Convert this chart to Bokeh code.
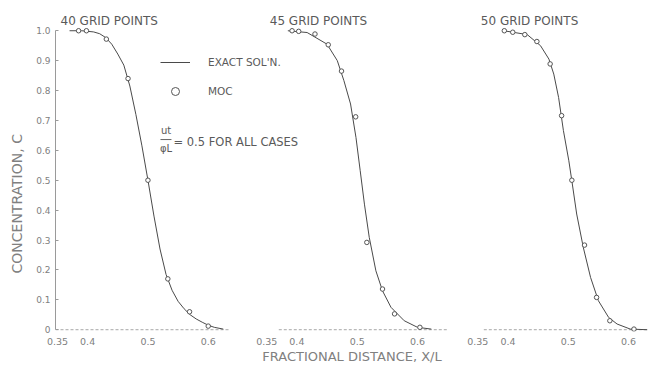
from bokeh.plotting import figure
from bokeh.models import Range1d, FixedTicker, Label, Legend, LegendItem, Arrow, Title
from bokeh.embed import file_html
from bokeh.resources import INLINE

# ---------------- data ----------------
panel_titles = ["40 GRID POINTS", "45 GRID POINTS", "50 GRID POINTS"]
x_tick_values = [0.35, 0.4, 0.5, 0.6]
x_tick_labels = ["0.35", "0.4", "0.5", "0.6"]
c_tick_values = [0, 0.1, 0.2, 0.3, 0.4, 0.5, 0.6, 0.7, 0.8, 0.9, 1.0]
c_tick_labels = ["0", "0.1", "0.2", "0.3", "0.4", "0.5", "0.6", "0.7", "0.8", "0.9", "1.0"]

# 40 grid points
exact_x_40 = [0.37, 0.39, 0.41, 0.42, 0.43, 0.44, 0.45, 0.46, 0.47, 0.48, 0.49, 0.50,
              0.51, 0.52, 0.53, 0.54, 0.55, 0.56, 0.57, 0.58, 0.59, 0.60, 0.61, 0.625]
exact_c_40 = [1.0, 1.0, 0.996, 0.99, 0.977, 0.955, 0.922, 0.885, 0.815, 0.72, 0.615, 0.50,
              0.38, 0.27, 0.185, 0.132, 0.095, 0.07, 0.05, 0.036, 0.025, 0.015, 0.008, 0.002]
moc_x_40 = [0.385, 0.398, 0.431, 0.467, 0.500, 0.533, 0.569, 0.600]
moc_c_40 = [1.0, 1.0, 0.972, 0.84, 0.50, 0.17, 0.06, 0.012]

# 45 grid points
exact_x_45 = [0.385, 0.417, 0.45, 0.467, 0.478, 0.489, 0.498, 0.505, 0.512, 0.52, 0.531,
              0.542, 0.556, 0.578, 0.60, 0.623]
exact_c_45 = [1.0, 0.994, 0.955, 0.90, 0.833, 0.755, 0.643, 0.532, 0.42, 0.309, 0.197,
              0.13, 0.075, 0.03, 0.008, 0.002]
moc_x_45 = [0.392, 0.403, 0.43, 0.452, 0.474, 0.4975, 0.516, 0.542, 0.562, 0.604]
moc_c_45 = [1.0, 0.998, 0.989, 0.953, 0.865, 0.712, 0.292, 0.136, 0.053, 0.008]

# 50 grid points
exact_x_50 = [0.393, 0.432, 0.454, 0.468, 0.476, 0.484, 0.492, 0.501, 0.506, 0.514, 0.525,
              0.537, 0.55, 0.567, 0.581, 0.603, 0.631]
exact_c_50 = [1.0, 0.987, 0.95, 0.905, 0.855, 0.777, 0.666, 0.565, 0.498, 0.387, 0.275,
              0.175, 0.097, 0.041, 0.019, 0.002, 0.0]
moc_x_50 = [0.394, 0.408, 0.428, 0.448, 0.470, 0.489, 0.506, 0.527, 0.547, 0.569, 0.609]
moc_c_50 = [1.0, 0.995, 0.987, 0.964, 0.889, 0.716, 0.50, 0.283, 0.108, 0.03, 0.002]

exact_x = [exact_x_40, exact_x_45, exact_x_50]
exact_c = [exact_c_40, exact_c_45, exact_c_50]
moc_x = [moc_x_40, moc_x_45, moc_x_50]
moc_c = [moc_c_40, moc_c_45, moc_c_50]

# ---------------- layout constants ----------------
panel_offset = [0.0, 0.347, 0.697]        # shift of each panel along the shared x scale
baseline_start = [0.3467, 0.37, 0.36]
baseline_end = [0.635, 0.65, 0.6315]

TXT = "#5a5a5a"
LIGHT = "#808080"
FONT = "DejaVu Sans"

p = figure(frame_width=593, frame_height=319,
           x_range=Range1d(0.3467, 1.3301), y_range=Range1d(-0.006, 1.061),
           output_backend="svg", toolbar_location=None,
           min_border_left=52, min_border_right=3, min_border_top=12, min_border_bottom=33)
p.xgrid.visible = False
p.ygrid.visible = False
p.outline_line_color = None
p.background_fill_color = "white"
p.border_fill_color = "white"

# x axis (tick labels repeated for each panel)
ticks, overrides = [], {}
for off in panel_offset:
    for v, lab in zip(x_tick_values, x_tick_labels):
        t = round(v + off, 4)
        ticks.append(t)
        overrides[t] = lab
xa = p.xaxis[0]
xa.ticker = FixedTicker(ticks=ticks)
xa.major_label_overrides = overrides
xa.axis_line_color = None
xa.major_tick_line_color = None
xa.minor_tick_line_color = None
xa.major_tick_out = 0
xa.major_tick_in = 0
xa.major_label_standoff = 6
xa.major_label_text_font = FONT
xa.major_label_text_font_size = "9.5px"
xa.major_label_text_color = LIGHT
xa.axis_label = "FRACTIONAL DISTANCE, X/L"
xa.axis_label_text_font = FONT
xa.axis_label_text_font_style = "normal"
xa.axis_label_text_font_size = "13px"
xa.axis_label_text_color = LIGHT
xa.axis_label_standoff = 1

ya = p.yaxis[0]
ya.ticker = FixedTicker(ticks=c_tick_values)
ya.major_label_overrides = {v: lab for v, lab in zip(c_tick_values, c_tick_labels)}
ya.bounds = (0, 1.0)
ya.axis_line_color = "#9a9a9a"
ya.major_tick_line_color = "#9a9a9a"
ya.minor_tick_line_color = None
ya.major_tick_in = 3
ya.major_tick_out = 0
ya.major_label_standoff = 5
ya.major_label_text_font = FONT
ya.major_label_text_font_size = "9px"
ya.major_label_text_color = LIGHT

p.add_layout(Title(text="CONCENTRATION, C", align="left", offset=58, vertical_align="middle",
                   standoff=15, text_font=FONT, text_font_size="14px",
                   text_font_style="normal", text_color=LIGHT), "left")

# baselines of each panel
p.segment(x0=[s + o for s, o in zip(baseline_start, panel_offset)], y0=[0, 0, 0],
          x1=[e + o for e, o in zip(baseline_end, panel_offset)], y1=[0, 0, 0],
          line_color="#a8a8a8", line_width=1, line_dash="3 2")

line_r, moc_r = [], []
for k in range(3):
    off = panel_offset[k]
    lr = p.line([x + off for x in exact_x[k]], exact_c[k], line_color="#4a4a4a", line_width=1)
    sr = p.scatter([x + off for x in moc_x[k]], moc_c[k], marker="circle", size=4.5,
                   line_color="#555555", fill_color="white", line_width=1)
    line_r.append(lr)
    moc_r.append(sr)
    p.add_layout(Label(x=0.355 + off, y=1.034, text=panel_titles[k], text_align="left",
                       text_baseline="middle", text_font=FONT, text_font_size="12px",
                       text_color=TXT))

legend = Legend(items=[LegendItem(label="EXACT SOL'N.", renderers=[line_r[0]]),
                       LegendItem(label="MOC", renderers=[moc_r[0]])],
                location=(105, 230), padding=0, margin=0, spacing=9,
                glyph_width=30, glyph_height=20, label_height=20, label_standoff=18,
                label_text_font=FONT, label_text_font_size="10.5px", label_text_color=TXT,
                border_line_color=None, background_fill_alpha=0)
p.add_layout(legend)

# u t / phi L = 0.5 note
p.add_layout(Label(x=0.530, y=0.665, text="ut", text_align="center", text_baseline="middle",
                   text_font=FONT, text_font_size="10px", text_color=TXT))
p.add_layout(Label(x=0.530, y=0.607, text="φL", text_align="center", text_baseline="middle",
                   text_font=FONT, text_font_size="10px", text_color=TXT))
p.add_layout(Arrow(x_start=0.5208, x_end=0.539, y_start=0.636, y_end=0.636,
                   start=None, end=None, line_color="#666666", line_width=1))
p.add_layout(Label(x=0.5424, y=0.627, text="= 0.5 FOR ALL CASES", text_align="left",
                   text_baseline="middle", text_font=FONT, text_font_size="11.5px",
                   text_color=TXT))

open("out.html", "w").write(file_html(p, INLINE))
